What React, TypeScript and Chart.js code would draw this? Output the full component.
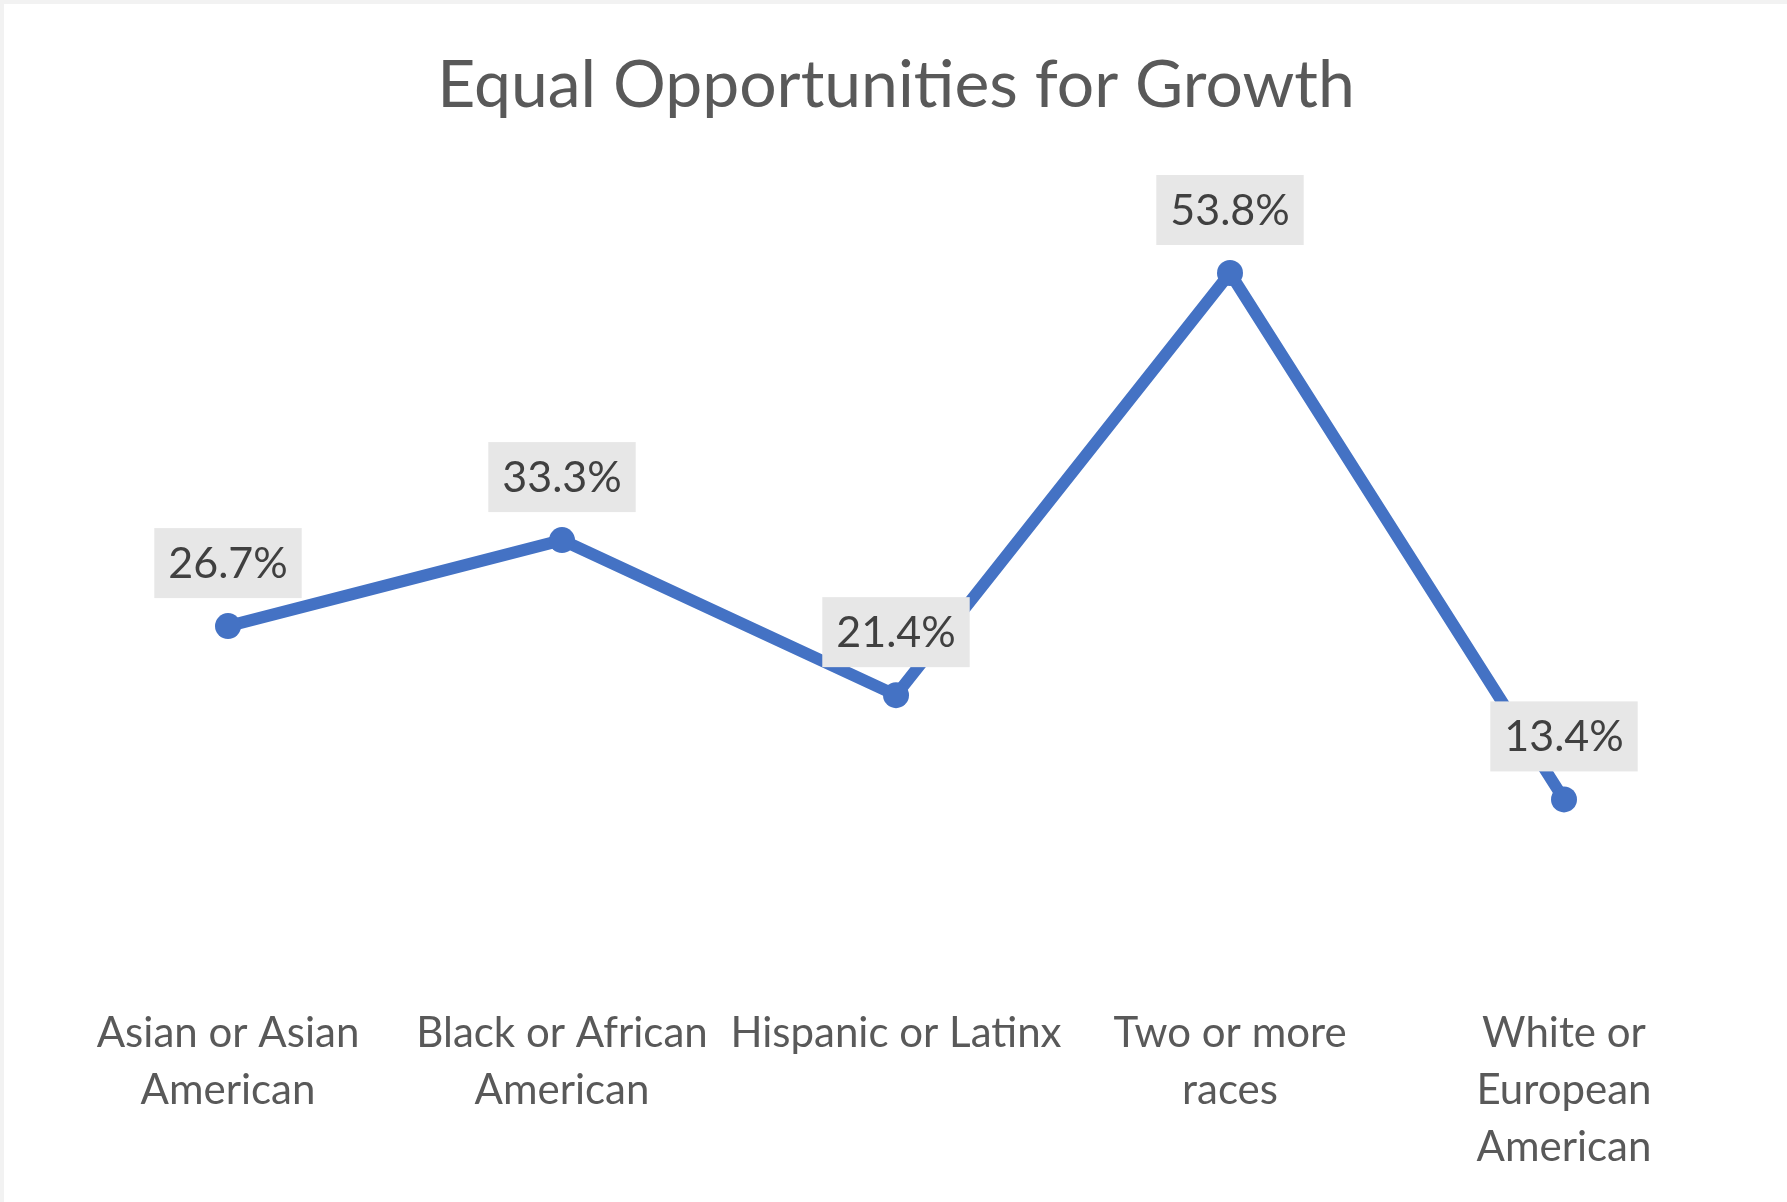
import React, { useEffect, useRef } from "react";
import { Chart, registerables } from "chart.js";

Chart.register(...registerables);

const chartTitle = "Equal Opportunities for Growth";
const categories: (string | string[])[] = [
  ["Asian or Asian", "American"],
  ["Black or African", "American"],
  "Hispanic or Latinx",
  ["Two or more", "races"],
  ["White or", "European", "American"],
];
const values = [26.7, 33.3, 21.4, 53.8, 13.4];
const yMin = 0;
const yMax = 60;

const FONT = "Lato, 'Open Sans', sans-serif";
const TEXT_COLOR = "#595959";
const LINE_COLOR = "#4472C4";

const labelPlugin = {
  id: "boxLabels",
  afterDatasetsDraw(chart: any) {
    const ctx = chart.ctx;
    const meta = chart.getDatasetMeta(0);
    ctx.save();
    ctx.font = `43px ${FONT}`;
    meta.data.forEach((pt: any, i: number) => {
      const text = values[i].toFixed(1) + "%";
      const w = ctx.measureText(text).width + 28;
      const h = 70;
      const x = pt.x - w / 2;
      const y = pt.y - 28 - h;
      ctx.fillStyle = "#E7E7E7";
      ctx.fillRect(x, y, w, h);
      ctx.fillStyle = "#404040";
      ctx.textAlign = "center";
      ctx.textBaseline = "middle";
      ctx.fillText(text, pt.x, y + h / 2 + 1);
    });
    ctx.restore();
  },
};

export default function App() {
  const ref = useRef<HTMLCanvasElement | null>(null);
  useEffect(() => {
    if (!ref.current) return;
    const chart = new Chart(ref.current, {
      type: "line",
      data: {
        labels: categories,
        datasets: [
          {
            data: values,
            borderColor: LINE_COLOR,
            backgroundColor: LINE_COLOR,
            borderWidth: 12,
            pointRadius: 13,
            pointBackgroundColor: LINE_COLOR,
            pointBorderWidth: 0,
            tension: 0,
            clip: false as any,
          },
        ],
      },
      options: {
        animation: false,
        responsive: false,
        layout: { padding: { left: 61, right: 56, top: 46, bottom: 0 } },
        plugins: {
          legend: { display: false },
          tooltip: { enabled: false },
          title: {
            display: true,
            text: chartTitle,
            color: TEXT_COLOR,
            font: { family: FONT, size: 66, weight: "normal", lineHeight: 1.2 },
            padding: { top: 0, bottom: 67 },
          },
        },
        scales: {
          x: {
            type: "category",
            offset: true,
            grid: { display: false, drawTicks: false },
            border: { display: false },
            ticks: {
              color: TEXT_COLOR,
              font: { family: FONT, size: 42, lineHeight: 1.357 },
              padding: 31,
              autoSkip: false,
              maxRotation: 0,
              minRotation: 0,
            },
            afterFit: (s: any) => {
              s.height = 228;
            },
          },
          y: { display: false, min: yMin, max: yMax },
        },
      },
      plugins: [labelPlugin],
    });
    return () => chart.destroy();
  }, []);
  return (
    <div style={{ position: "absolute", left: 0, top: 0, width: 1787, height: 1202, background: "#fff" }}>
      <canvas ref={ref} width={1787} height={1202} style={{ display: "block" }} />
      <div
        style={{
          position: "absolute",
          left: 0,
          top: 0,
          width: 1787,
          height: 1202,
          boxSizing: "border-box",
          borderTop: "4px solid #F2F2F2",
          borderLeft: "4px solid #F2F2F2",
          pointerEvents: "none",
        }}
      />
    </div>
  );
}
